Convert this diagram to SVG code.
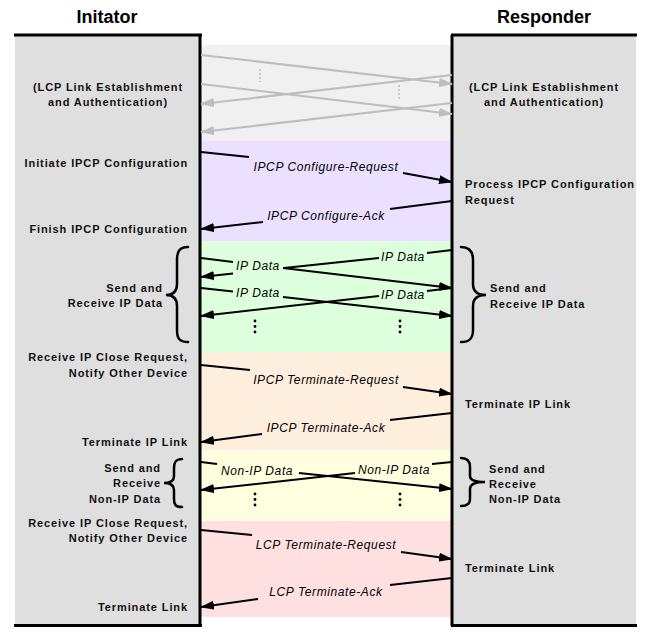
<svg xmlns="http://www.w3.org/2000/svg" width="647" height="638" viewBox="0 0 647 638">
<defs>
<style>
.title{font-family:"Liberation Sans",Arial,sans-serif;font-weight:bold;font-size:18px;fill:#000}
.lbl{font-family:"Liberation Sans",Arial,sans-serif;font-weight:bold;font-size:11px;letter-spacing:0.9px;fill:#111}
.msg{font-family:"Liberation Sans",Arial,sans-serif;font-style:italic;font-size:12px;letter-spacing:0.6px;fill:#000}
.col{fill:#dfdfdf}
.edge{stroke:#000;stroke-width:3;fill:none}
.ln{stroke:#000;stroke-width:2;fill:none}
.gln{stroke:#bdbdbd;stroke-width:2;fill:none}
.brace{stroke:#000;stroke-width:2.5;fill:none;stroke-linecap:round}
.end{text-anchor:end}
.mid{text-anchor:middle}
</style>
<marker id="ah" viewBox="0 0 14 9" refX="13" refY="4.5" markerWidth="14" markerHeight="9" markerUnits="userSpaceOnUse" orient="auto">
<path d="M0,0 L14,4.5 L0,9 z" fill="#000"/>
</marker>
<marker id="gah" viewBox="0 0 14 9" refX="13" refY="4.5" markerWidth="14" markerHeight="9" markerUnits="userSpaceOnUse" orient="auto">
<path d="M0,0 L14,4.5 L0,9 z" fill="#bdbdbd"/>
</marker>
</defs>

<g id="bands">
<rect x="200" y="45" width="252" height="96" fill="#f0f0f0"/>
<rect x="200" y="141" width="252" height="100" fill="#ebe0ff"/>
<rect x="200" y="241" width="252" height="111" fill="#ddffdd"/>
<rect x="200" y="352" width="252" height="98" fill="#feeedd"/>
<rect x="200" y="450" width="252" height="71" fill="#ffffe0"/>
<rect x="200" y="521" width="252" height="96" fill="#ffe0e0"/>
</g>

<g id="initiator">
<rect class="col" x="15" y="35" width="185" height="590"/>
<line class="edge" x1="14" y1="35" x2="202" y2="35"/>
<line class="edge" x1="200" y1="35" x2="200" y2="626"/>
<line class="edge" x1="14" y1="625.5" x2="202" y2="625.5"/>
<text class="title mid" x="107" y="23">Initator</text>
<text class="lbl mid" x="108" y="91">(LCP Link Establishment</text>
<text class="lbl mid" x="108" y="106">and Authentication)</text>
<text class="lbl end" x="188" y="167">Initiate IPCP Configuration</text>
<text class="lbl end" x="188" y="233">Finish IPCP Configuration</text>
<text class="lbl end" x="163" y="292">Send and</text>
<text class="lbl end" x="163" y="307">Receive IP Data</text>
<text class="lbl end" x="188" y="361">Receive IP Close Request,</text>
<text class="lbl end" x="188" y="377">Notify Other Device</text>
<text class="lbl end" x="188" y="446">Terminate IP Link</text>
<text class="lbl end" x="161" y="472">Send and</text>
<text class="lbl end" x="161" y="487">Receive</text>
<text class="lbl end" x="161" y="503">Non-IP Data</text>
<text class="lbl end" x="188" y="527">Receive IP Close Request,</text>
<text class="lbl end" x="188" y="542">Notify Other Device</text>
<text class="lbl end" x="188" y="611">Terminate Link</text>
<path class="brace" d="M188,247 C179,247 177,252 177,260 L177,284 C177,291 174,295 166,295 C174,295 177,299 177,306 L177,330 C177,338 179,342 188,342"/>
<path class="brace" d="M182,459 C175,459 174,463 174,468 L174,476 C174,480 171,483 164,483 C171,483 174,486 174,490 L174,499 C174,504 175,507 182,507"/>
</g>

<g id="responder">
<rect class="col" x="452" y="35" width="184" height="590"/>
<line class="edge" x1="451" y1="35" x2="637" y2="35"/>
<line class="edge" x1="452" y1="35" x2="452" y2="626"/>
<line class="edge" x1="451" y1="625.5" x2="637" y2="625.5"/>
<text class="title mid" x="544" y="23">Responder</text>
<text class="lbl mid" x="544" y="91">(LCP Link Establishment</text>
<text class="lbl mid" x="544" y="106">and Authentication)</text>
<text class="lbl" x="465" y="188">Process IPCP Configuration</text>
<text class="lbl" x="465" y="204">Request</text>
<text class="lbl" x="490" y="292">Send and</text>
<text class="lbl" x="490" y="308">Receive IP Data</text>
<text class="lbl" x="465" y="408">Terminate IP Link</text>
<text class="lbl" x="489" y="473">Send and</text>
<text class="lbl" x="489" y="488">Receive</text>
<text class="lbl" x="489" y="503">Non-IP Data</text>
<text class="lbl" x="465" y="572">Terminate Link</text>
<path class="brace" d="M461,247 C470,247 473,252 473,260 L473,284 C473,291 477,295 486,295 C477,295 473,299 473,306 L473,330 C473,338 470,342 461,342"/>
<path class="brace" d="M461,458 C468,458 470,462 470,467 L470,476 C470,480 474,482 485,482 C474,482 470,485 470,489 L470,499 C470,503 468,506 461,506"/>
</g>

<g id="connectors">
<!-- LCP establishment (gray) -->
<line class="gln" x1="201" y1="55" x2="452" y2="84" marker-end="url(#gah)"/>
<line class="gln" x1="201" y1="84" x2="452" y2="114" marker-end="url(#gah)"/>
<line class="gln" x1="452" y1="75" x2="201" y2="104" marker-end="url(#gah)"/>
<line class="gln" x1="452" y1="103" x2="201" y2="132" marker-end="url(#gah)"/>
<line x1="260" y1="69" x2="260" y2="82" stroke="#c8c8c8" stroke-width="2" stroke-dasharray="2,2"/>
<line x1="399" y1="85" x2="399" y2="100" stroke="#c8c8c8" stroke-width="2" stroke-dasharray="2,2"/>

<!-- IPCP configure -->
<line class="ln" x1="201" y1="152" x2="249" y2="157"/>
<line class="ln" x1="403" y1="173" x2="452" y2="182" marker-end="url(#ah)"/>
<text class="msg mid" x="326" y="171">IPCP Configure-Request</text>
<line class="ln" x1="452" y1="201" x2="390" y2="209"/>
<line class="ln" x1="263" y1="222" x2="201" y2="229" marker-end="url(#ah)"/>
<text class="msg mid" x="326" y="220">IPCP Configure-Ack</text>

<!-- IP data -->
<line class="ln" x1="201" y1="258" x2="233" y2="262"/>
<line class="ln" x1="283" y1="268" x2="452" y2="288" marker-end="url(#ah)"/>
<text class="msg mid" x="258" y="270">IP Data</text>
<line class="ln" x1="452" y1="250" x2="427" y2="253"/>
<line class="ln" x1="379" y1="258" x2="284" y2="268"/>
<line class="ln" x1="233" y1="273.5" x2="201" y2="277" marker-end="url(#ah)"/>
<text class="msg mid" x="403" y="261">IP Data</text>
<line class="ln" x1="201" y1="288" x2="233" y2="291.5"/>
<line class="ln" x1="283" y1="297" x2="452" y2="316" marker-end="url(#ah)"/>
<text class="msg mid" x="258" y="297">IP Data</text>
<line class="ln" x1="452" y1="288" x2="427" y2="291"/>
<line class="ln" x1="379" y1="296" x2="201" y2="316" marker-end="url(#ah)"/>
<text class="msg mid" x="403" y="299">IP Data</text>
<g fill="#000">
<circle cx="255" cy="321" r="1.4"/><circle cx="255" cy="326.5" r="1.4"/><circle cx="255" cy="332" r="1.4"/>
<circle cx="400" cy="321" r="1.4"/><circle cx="400" cy="326.5" r="1.4"/><circle cx="400" cy="332" r="1.4"/>
</g>

<!-- IPCP terminate -->
<line class="ln" x1="201" y1="365" x2="250" y2="370"/>
<line class="ln" x1="403" y1="387" x2="452" y2="394" marker-end="url(#ah)"/>
<text class="msg mid" x="326" y="384">IPCP Terminate-Request</text>
<line class="ln" x1="452" y1="413" x2="390" y2="420"/>
<line class="ln" x1="262" y1="434" x2="201" y2="442" marker-end="url(#ah)"/>
<text class="msg mid" x="326" y="432">IPCP Terminate-Ack</text>

<!-- Non-IP data -->
<line class="ln" x1="201" y1="462" x2="217" y2="464"/>
<line class="ln" x1="299" y1="473" x2="452" y2="489" marker-end="url(#ah)"/>
<text class="msg mid" x="257" y="475">Non-IP Data</text>
<line class="ln" x1="452" y1="462" x2="432" y2="464"/>
<line class="ln" x1="355" y1="473" x2="201" y2="490" marker-end="url(#ah)"/>
<text class="msg mid" x="394" y="474">Non-IP Data</text>
<g fill="#000">
<circle cx="255" cy="494" r="1.4"/><circle cx="255" cy="499.5" r="1.4"/><circle cx="255" cy="505" r="1.4"/>
<circle cx="400" cy="494" r="1.4"/><circle cx="400" cy="499.5" r="1.4"/><circle cx="400" cy="505" r="1.4"/>
</g>

<!-- LCP terminate -->
<line class="ln" x1="201" y1="530" x2="252" y2="535"/>
<line class="ln" x1="401" y1="552" x2="452" y2="559" marker-end="url(#ah)"/>
<text class="msg mid" x="326" y="549">LCP Terminate-Request</text>
<line class="ln" x1="452" y1="578" x2="390" y2="585"/>
<line class="ln" x1="258" y1="599" x2="201" y2="607" marker-end="url(#ah)"/>
<text class="msg mid" x="326" y="596">LCP Terminate-Ack</text>
</g>
</svg>
